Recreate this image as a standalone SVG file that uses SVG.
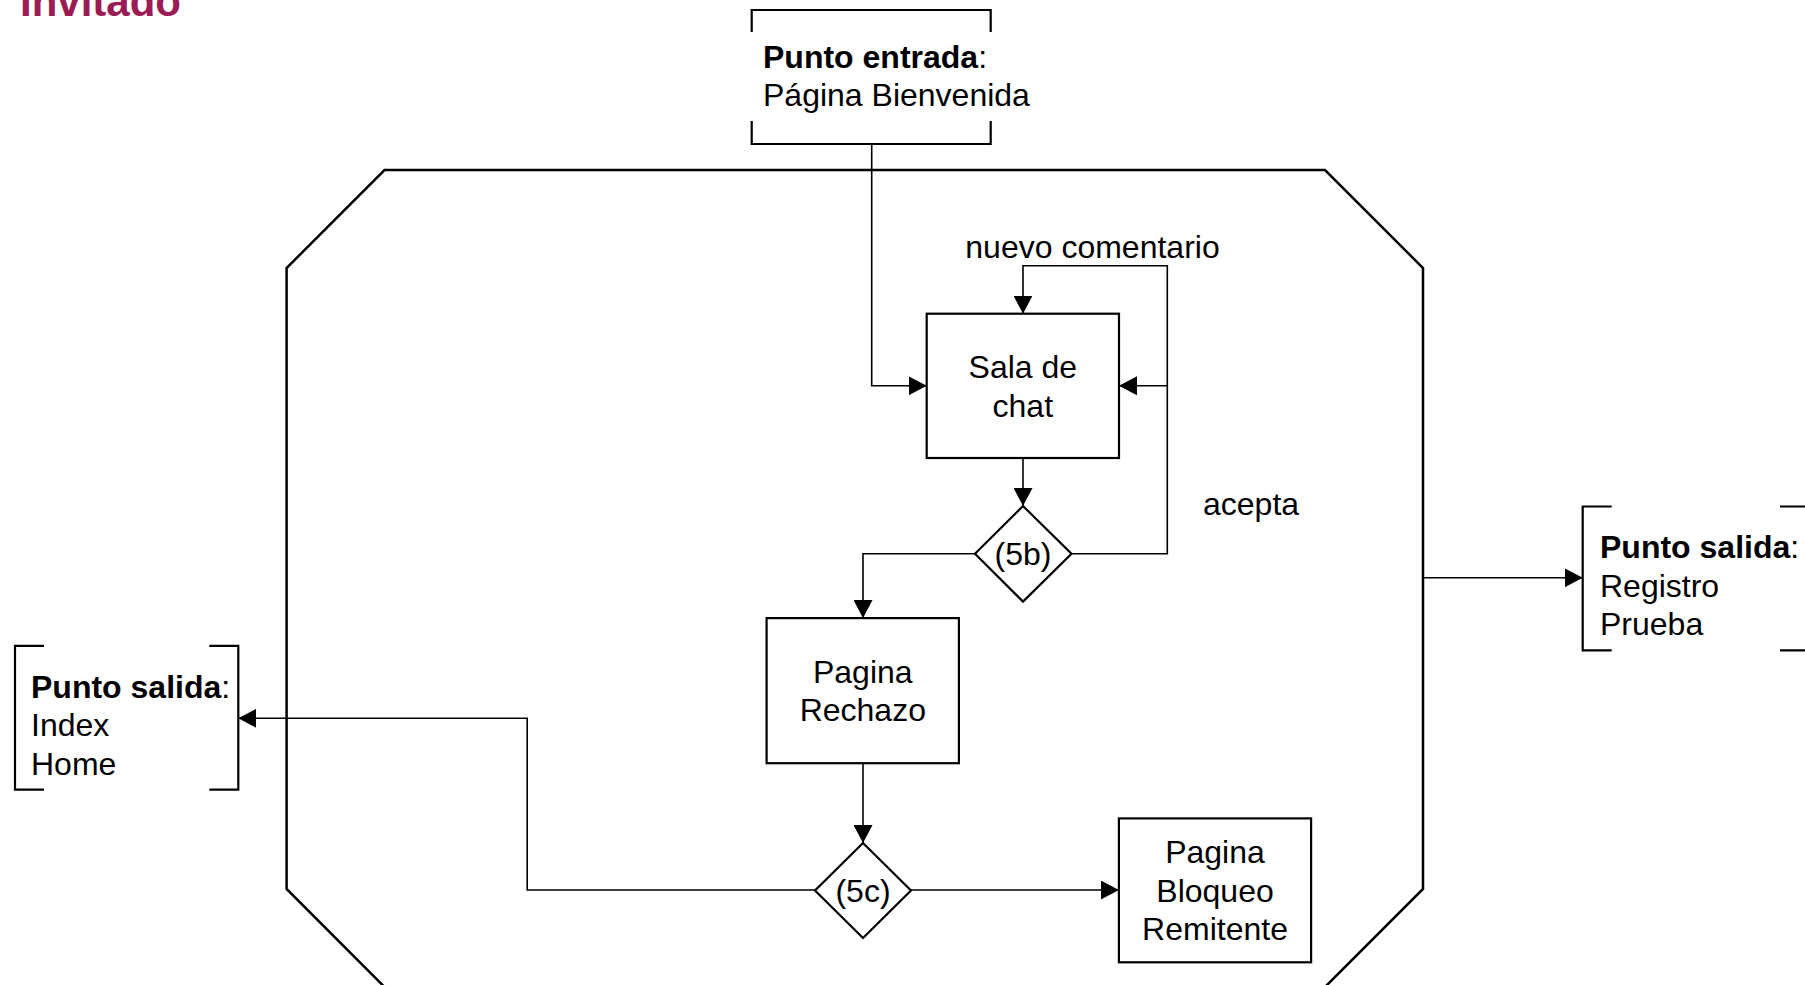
<svg xmlns="http://www.w3.org/2000/svg" width="1805" height="985" viewBox="0 0 1805 985">
<defs>
<marker id="arr" markerUnits="userSpaceOnUse" markerWidth="18" markerHeight="19" refX="18" refY="9.5" orient="auto">
<path d="M0,0 L18,9.5 L0,19 z" fill="#000"/>
</marker>
<style>
text{font-family:"Liberation Sans",Arial,sans-serif;font-size:32px;fill:#000}
.c{text-anchor:middle}
.b{font-weight:bold}
.box{fill:#fff;stroke:#000;stroke-width:2.2}
.br{fill:none;stroke:#000;stroke-width:2.2}
.ln{fill:none;stroke:#000;stroke-width:1.6}
.ar{marker-end:url(#arr)}
</style>
</defs>
<rect width="1805" height="985" fill="#fff"/>
<text x="20" y="16" class="b" style="font-size:42px;fill:#9B1B55">Invitado</text>

<g id="boundary">
<polygon points="384.5,170 1325,170 1423,268 1423,889 1325,987 384.5,987 286.6,889 286.6,268" fill="none" stroke="#000" stroke-width="2.5"/>
</g>

<g id="connectors">
<path class="ln ar" d="M871.7,144 V385.8 H926.7"/>
<path class="ln ar" d="M1023,458 V506"/>
<path class="ln ar" d="M1071.5,553.8 H1167.3 V385.8 H1119"/>
<path class="ln ar" d="M1167.3,385.8 V265.7 H1023 V313.7"/>
<path class="ln ar" d="M975,553.8 H863 V618.1"/>
<path class="ln ar" d="M863,763.2 V843"/>
<path class="ln ar" d="M911,890 H1118.9"/>
<path class="ln ar" d="M815,890 H527.2 V718.3 H238.3"/>
<path class="ln ar" d="M1423,577.8 H1582.7"/>
</g>

<g id="label-nuevo"><text x="1092.5" y="258" class="c">nuevo comentario</text></g>
<g id="label-acepta"><text x="1203" y="515">acepta</text></g>

<g id="entrada">
<path class="br" d="M751.7,32 V10 H990.7 V32 M751.7,121 V144 H990.7 V121"/>
<text x="763" y="67.5"><tspan class="b">Punto entrada</tspan>:</text>
<text x="763" y="106">Página Bienvenida</text>
</g>

<g id="sala">
<rect class="box" x="926.7" y="313.7" width="192.3" height="144.3"/>
<text x="1022.8" y="378" class="c">Sala de</text>
<text x="1022.8" y="416.5" class="c">chat</text>
</g>

<g id="d5b">
<polygon class="box" points="1023,506 1071.5,553.8 1023,601.6 975,553.8"/>
<text x="1023" y="565.3" class="c">(5b)</text>
</g>

<g id="rechazo">
<rect class="box" x="766.6" y="618.1" width="192.3" height="145.1"/>
<text x="862.8" y="682.9" class="c">Pagina</text>
<text x="862.8" y="721.4" class="c">Rechazo</text>
</g>

<g id="d5c">
<polygon class="box" points="863,843 911,890.5 863,938 815,890.5"/>
<text x="863" y="902" class="c">(5c)</text>
</g>

<g id="bloqueo">
<rect class="box" x="1118.9" y="818.4" width="192.2" height="143.9"/>
<text x="1215" y="863.4" class="c">Pagina</text>
<text x="1215" y="901.9" class="c">Bloqueo</text>
<text x="1215" y="940.4" class="c">Remitente</text>
</g>

<g id="salida-index">
<path class="br" d="M44,645.8 H15 V789.7 H44 M209.3,645.8 H238.3 V789.7 H209.3"/>
<text x="31" y="697.5"><tspan class="b">Punto salida</tspan>:</text>
<text x="31" y="736">Index</text>
<text x="31" y="774.5">Home</text>
</g>

<g id="salida-registro">
<path class="br" d="M1611.7,506.5 H1582.7 V650.4 H1611.7 M1780,506.5 H1809 V650.4 H1780"/>
<text x="1600" y="558"><tspan class="b">Punto salida</tspan>:</text>
<text x="1600" y="596.5">Registro</text>
<text x="1600" y="635">Prueba</text>
</g>
</svg>
